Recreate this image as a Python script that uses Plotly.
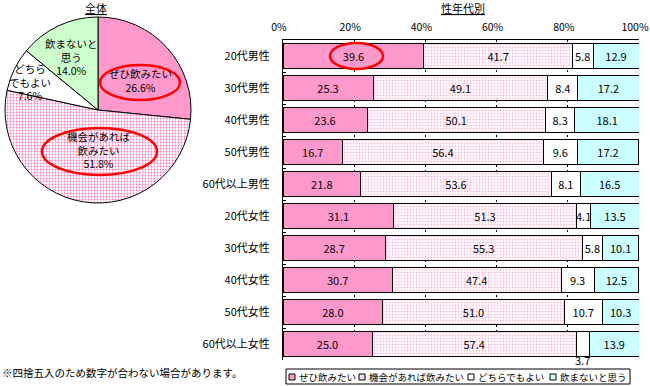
import plotly.graph_objects as go

FONT = "Noto Sans CJK JP"

# ---- data ----
answers = ["ぜひ飲みたい", "機会があれば飲みたい", "どちらでもよい", "飲まないと思う"]
pie_values = [26.6, 51.8, 7.6, 14.0]
pie_display = ["ぜひ飲みたい", "機会があれば<br>飲みたい", "どちら<br>でもよい", "飲まないと<br>思う"]

groups = ["20代男性", "30代男性", "40代男性", "50代男性", "60代以上男性",
          "20代女性", "30代女性", "40代女性", "50代女性", "60代以上女性"]
want_strongly = [39.6, 25.3, 23.6, 16.7, 21.8, 31.1, 28.7, 30.7, 28.0, 25.0]
want_if_chance = [41.7, 49.1, 50.1, 56.4, 53.6, 51.3, 55.3, 47.4, 51.0, 57.4]
either = [5.8, 8.4, 8.3, 9.6, 8.1, 4.1, 5.8, 9.3, 10.7, 3.7]
wont_drink = [12.9, 17.2, 18.1, 17.2, 16.5, 13.5, 10.1, 12.5, 10.3, 13.9]
bar_series = [want_strongly, want_if_chance, either, wont_drink]

tick_vals = [0, 20, 40, 60, 80, 100]
tick_text = ["0%", "20%", "40%", "60%", "80%", "100%"]

PINK = "#FF99CC"
DOT = "#FF77BB"
CYAN = "#CCFFFF"
GREEN = "#CCFFCC"
LIGHTPINK = "#FFD6EB"

fig = go.Figure()

# ---- pie ----
fig.add_trace(go.Pie(
    labels=answers, values=pie_values, sort=False, direction="clockwise",
    rotation=0, textinfo="none", showlegend=False, hoverinfo="label+percent",
    marker=dict(
        colors=[PINK, "white", "white", GREEN],
        line=dict(color="black", width=1),
        pattern=dict(shape=["", ".", "", ""], fgcolor=[PINK, DOT, "white", GREEN],
                     bgcolor=[PINK, "white", "white", GREEN], size=3, solidity=0.3),
    ),
    domain=dict(x=[5/650, 191/650], y=[1-203/386, 1-17/386]),
))

# ---- bars ----
bar_styles = [
    dict(color=PINK),
    dict(color="white", pattern=dict(shape=".", fgcolor=DOT, bgcolor="white", size=3, solidity=0.3)),
    dict(color="white"),
    dict(color=CYAN),
]
small_outside = []
for name, vals, st in zip(answers, bar_series, bar_styles):
    texts = []
    for g, v in zip(groups, vals):
        if v < 4:
            texts.append("")
            small_outside.append((name, g, v))
        else:
            texts.append(f"{v:.1f}")
    fig.add_trace(go.Bar(
        y=groups, x=vals, orientation="h", name=name, showlegend=False,
        marker=dict(line=dict(color="black", width=1), **st),
        text=texts, textposition="inside", insidetextanchor="middle", textangle=0,
        textfont=dict(family=FONT, size=11, color="black"),
        xaxis="x", yaxis="y",
    ))

# label for the narrow segment, placed below its bar
for name, g, v in small_outside:
    idx = answers.index(name)
    gi = groups.index(g)
    start = sum(bar_series[k][gi] for k in range(idx))
    fig.add_annotation(x=start + v/2, y=g, text=f"{v:.1f}", showarrow=False,
                       yshift=-16, yanchor="middle",
                       font=dict(family=FONT, size=11, color="black"),
                       xref="x", yref="y")

fig.update_layout(
    width=650, height=386,
    margin=dict(l=0, r=0, t=0, b=0, autoexpand=False),
    paper_bgcolor="white", plot_bgcolor="white",
    font=dict(family=FONT, size=11, color="black"),
    barmode="stack", bargap=0.19,
    uniformtext=dict(minsize=11, mode="show"),
    xaxis=dict(domain=[283/650, 639/650], range=[0, 100], side="top",
               tickvals=tick_vals, ticktext=tick_text,
               showline=True, linecolor="black", linewidth=1, mirror=False,
               showgrid=True, gridcolor="black", gridwidth=1, griddash="2px,3px",
               zeroline=False, ticks="outside", ticklen=4, tickcolor="rgba(0,0,0,0)",
               ticklabeloverflow="allow", ticklabelshift=-4,
               tickfont=dict(family=FONT, size=10.5), fixedrange=True),
    yaxis=dict(domain=[1-360/386, 1-40/386], autorange="reversed",
               showline=True, linecolor="black", linewidth=1, showgrid=False,
               ticks="inside", tickson="boundaries", ticklen=3, tickcolor="black",
               ticklabelstandoff=10, tickfont=dict(family=FONT, size=11),
               fixedrange=True),
    showlegend=False,
)

def paper_text(px, py, text, size=11, xanchor="center", align="center"):
    fig.add_annotation(x=px/650, y=1-py/386, xref="paper", yref="paper",
                       xanchor=xanchor, yanchor="middle", align=align,
                       text=text, showarrow=False, font=dict(family=FONT, size=size))

# titles
paper_text(96, 8, "<u>全体</u>")
paper_text(463, 8, "<u>性年代別</u>")

# pie labels
pie_label_pos = [(140, 81), (99, 150), (30, 82), (71, 57)]
for disp, v, (px, py) in zip(pie_display, pie_values, pie_label_pos):
    paper_text(px, py, f"{disp}<br>{v:.1f}%", size=10.5)

# footnote
paper_text(0, 372, "※四捨五入のため数字が合わない場合があります。", size=10.5, xanchor="left")

# manual legend (box, swatches, labels)
fig.add_shape(type="rect", xref="paper", yref="paper",
              x0=286/650, x1=630/650, y0=1-384/386, y1=1-369/386,
              line=dict(color="black", width=1), fillcolor="white")
legend_fill = [PINK, LIGHTPINK, "white", CYAN]
legend_x = [289, 359, 468, 550]
for name, fill, lx in zip(answers, legend_fill, legend_x):
    fig.add_shape(type="rect", xref="paper", yref="paper",
                  x0=lx/650, x1=(lx+6)/650, y0=1-380/386, y1=1-374/386,
                  line=dict(color="black", width=1), fillcolor=fill)
    paper_text(lx + 8, 377, name, size=9.5, xanchor="left")

# red highlight ellipses
for x0, y0, x1, y1 in [(100, 65, 180, 100), (42, 128, 157, 175), (330, 43, 383, 69)]:
    fig.add_shape(type="circle", xref="paper", yref="paper",
                  x0=x0/650, x1=x1/650, y0=1-y1/386, y1=1-y0/386,
                  line=dict(color="red", width=2.5))

fig.write_html("out.html", config={"displayModeBar": False},
               post_script="document.body.style.margin='0';")
